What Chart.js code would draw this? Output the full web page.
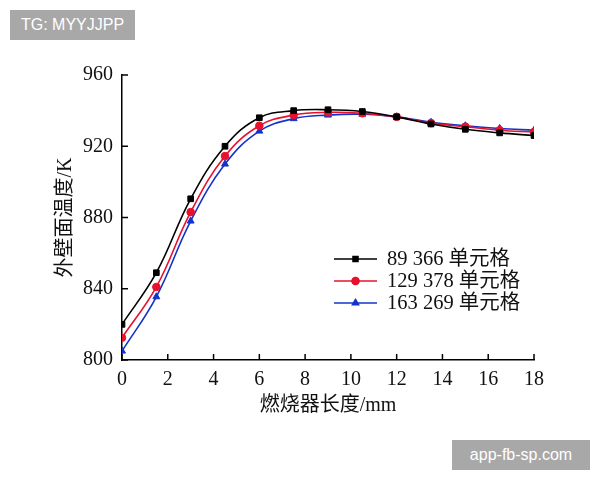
<!DOCTYPE html>
<html lang="zh">
<head>
<meta charset="UTF-8">
<title>外壁面温度</title>
<script src="https://cdn.jsdelivr.net/npm/chart.js"></script>
<style>
  body { margin: 0; background: #fff; }
  #wrap { position: relative; width: 600px; height: 480px; }
  .tag {
    position: absolute; background: #a8a8a8; color: #fff;
    font: 16px "Liberation Sans", Arial, sans-serif;
    display: flex; align-items: center; justify-content: center;
  }
</style>
</head>
<body>
<div id="wrap">
  <canvas id="c" width="600" height="480"></canvas>
  <div class="tag" style="left:10px;top:10px;width:125px;height:30px;">TG: MYYJJPP</div>
  <div class="tag" style="left:452px;top:440px;width:138px;height:30px;">app-fb-sp.com</div>
</div>
<script>
// 燃烧器长度 (mm)
const lengths = [0, 1.5, 3, 4.5, 6, 7.5, 9, 10.5, 12, 13.5, 15, 16.5, 18];
const seriesNames = ['89 366 单元格', '129 378 单元格', '163 269 单元格'];
const temp89366 = [820, 849, 890.5, 920, 936, 940, 940.5, 939.5, 936.5, 932.5, 929.5, 927.5, 926];
const temp129378 = [812.5, 841, 883, 914.5, 931.5, 937.5, 939, 938.5, 936.5, 933, 931, 929, 928];
const temp163269 = [805, 835.5, 878, 910, 928.5, 935.5, 937.5, 938, 936.5, 933.5, 931.5, 930, 929];

const serif = '"Liberation Serif", "Times New Roman", "Noto Sans CJK SC", serif';
const colors = ['#000000', '#e8102c', '#1433c8'];
const shapes = ['rect', 'circle', 'triangle'];

function pts(vals) { return lengths.map((x, i) => ({ x: x, y: vals[i] })); }

const datasets = [temp89366, temp129378, temp163269].map((v, i) => ({
  label: seriesNames[i],
  data: pts(v),
  borderColor: colors[i],
  backgroundColor: colors[i],
  borderWidth: 1.6,
  pointStyle: shapes[i],
  pointRadius: i === 1 ? 3.8 : 4,
  pointBorderWidth: 1,
  tension: 0.4
}));

// inward tick marks
const innerTicks = {
  id: 'innerTicks',
  afterDraw(chart) {
    const ctx = chart.ctx, a = chart.chartArea;
    ctx.save();
    ctx.strokeStyle = '#000';
    ctx.lineWidth = 1.5;
    chart.scales.x.ticks.forEach(t => {
      const px = chart.scales.x.getPixelForValue(t.value);
      ctx.beginPath(); ctx.moveTo(px, a.bottom); ctx.lineTo(px, a.bottom - 6); ctx.stroke();
    });
    chart.scales.y.ticks.forEach(t => {
      const py = chart.scales.y.getPixelForValue(t.value);
      ctx.beginPath(); ctx.moveTo(a.left, py); ctx.lineTo(a.left + 6, py); ctx.stroke();
    });
    ctx.restore();
  }
};

// legend: line with marker in the middle
const lineLegend = {
  id: 'lineLegend',
  afterDraw(chart) {
    const ctx = chart.ctx;
    ctx.save();
    chart.data.datasets.forEach((ds, i) => {
      const y = 259 + i * 22;
      ctx.strokeStyle = ds.borderColor;
      ctx.lineWidth = 1.6;
      ctx.beginPath(); ctx.moveTo(334, y); ctx.lineTo(377, y); ctx.stroke();
      Chart.helpers.drawPoint(ctx, { pointStyle: ds.pointStyle, radius: 3.5, borderWidth: 1 }, 355.5, y);
      ctx.fillStyle = ds.borderColor;
      ctx.fill();
      ctx.fillStyle = '#111';
      ctx.font = '20.5px ' + serif;
      ctx.textBaseline = 'middle';
      ctx.fillText(ds.label, 387, y + 1);
    });
    ctx.restore();
  }
};

new Chart(document.getElementById('c'), {
  type: 'line',
  data: { datasets: datasets },
  options: {
    responsive: false,
    animation: false,
    layout: { padding: { left: 0, top: 75, right: 66, bottom: 0 } },
    plugins: { legend: { display: false }, tooltip: { enabled: false } },
    scales: {
      x: {
        type: 'linear', min: 0, max: 18,
        ticks: { stepSize: 2, color: '#111', padding: 8, font: { family: serif, size: 20 }, maxRotation: 0 },
        grid: { display: false, drawTicks: false },
        border: { display: true, color: '#000', width: 1.5 },
        title: { display: true, text: '燃烧器长度/mm', color: '#111', font: { family: serif, size: 20 }, padding: { top: 0, bottom: 62 } },
        afterFit(s) { s.height = 120; }
      },
      y: {
        min: 800, max: 960,
        ticks: { stepSize: 40, color: '#111', padding: 9, font: { family: serif, size: 20 } },
        grid: { display: false, drawTicks: false },
        border: { display: true, color: '#000', width: 1.5 },
        title: { display: true, text: '外壁面温度/K', color: '#111', font: { family: serif, size: 20 }, padding: { top: 54, bottom: 0 } },
        afterFit(s) { s.width = 122; }
      }
    }
  },
  plugins: [innerTicks, lineLegend]
});
</script>
</body>
</html>
